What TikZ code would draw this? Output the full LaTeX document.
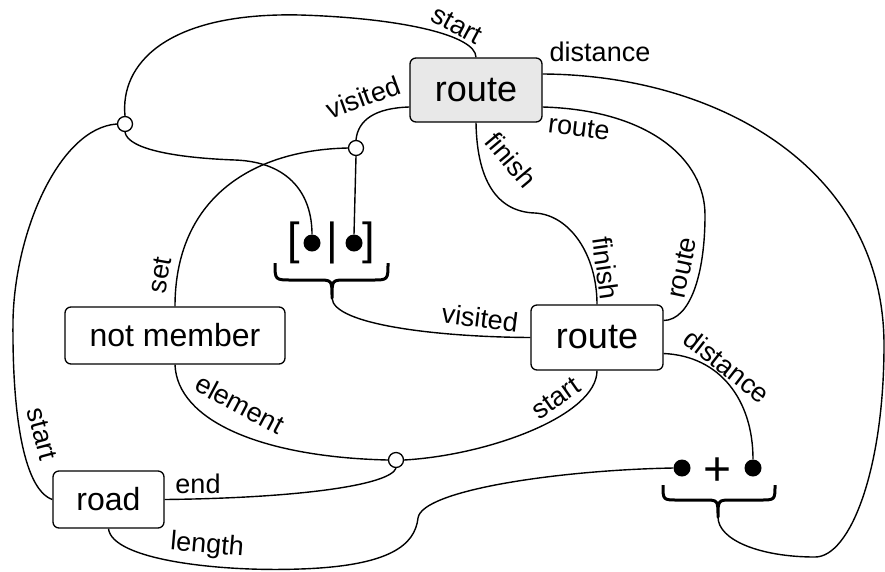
\documentclass[tikz,border=0pt]{standalone}
\usepackage{fontspec}
\setmainfont{Liberation Sans}
\usetikzlibrary{calc}
\definecolor{boxgray}{HTML}{E8E8E8}
\begin{document}
\begin{tikzpicture}[x=1pt,y=-1pt,
  box/.style={draw, rounded corners=6pt, line width=1.3pt, inner sep=0pt, font=\fontsize{32}{36}\selectfont},
  routebox/.style={box, minimum width=132pt, minimum height=64pt, font=\fontsize{36}{40}\selectfont},
  lab/.style={inner sep=0pt, font=\fontsize{27}{30}\selectfont},
  conn/.style={line width=1.4pt},
  junc/.style={circle, draw, fill=white, line width=1.3pt, minimum size=15pt, inner sep=0pt},
  dotn/.style={circle, fill=black, minimum size=17pt, inner sep=0pt},
  sym/.style={inner sep=0pt, font=\fontsize{45}{48}\selectfont},
  bracepath/.style={line width=3pt, line join=round}
]
\useasboundingbox (0,0) rectangle (885,571);

% nodes
\node[routebox, fill=boxgray] (r1) at (476,90) {route};
\node[routebox, minimum height=65pt] (r2) at (597,337.5) {route};
\node[box, minimum width=220pt, minimum height=57pt] (nm) at (175,335.5) {not member};
\node[box, minimum width=111pt, minimum height=57pt] (road) at (108.5,499.5) {road};

\node[junc] (c1) at (125,124) {};
\node[junc] (c2) at (356,148) {};
\node[junc] (c3) at (396,460) {};

\node[dotn] (d1) at (312,243) {};
\node[dotn] (d2) at (354,243) {};
\node[dotn] (p1) at (682,468) {};
\node[dotn] (p2) at (753,468) {};

\node[sym] (lb) at (294,243) {[};
\node[sym] (bar) at (332,243) {|};
\node[sym] (rb) at (369,243) {]};
\node[sym, font=\fontsize{48}{52}\selectfont] (plus) at (718,471.5) {+};

\coordinate (bt1) at (332,298);
\coordinate (bt2) at (718,517);

% braces
\draw[bracepath] (275,263) .. controls (275,280) .. (292,280) -- (318,280)
   .. controls (332,280) .. (bt1) .. controls (332,280) .. (346,280) -- (372,280)
   .. controls (388,280) .. (388,263);
\draw[bracepath] (663,485) .. controls (663,500) .. (678,500) -- (704,500)
   .. controls (718,500) .. (bt2) .. controls (718,500) .. (732,500) -- (760,500)
   .. controls (775,500) .. (775,485);

% connectors
\draw[conn] (r1.north) .. controls (476,35) and (400,18) .. (300,15)
   .. controls (165,12) and (120,65) .. (c1.north);
\draw[conn] (c1.west) .. controls (60,128) and (15,230) .. (13,320)
   .. controls (12,420) and (25,490) .. (road.west);
\draw[conn] (c1.south) .. controls (128,150) and (180,158) .. (235,160)
   .. controls (290,162) and (312,195) .. (d1.north);
\draw[conn] ($(r1.west)+(0,17)$) .. controls (375,108) and (358,120) .. (c2.north);
\draw[conn] (c2.south) -- (d2.north);
\draw[conn] (c2.west) .. controls (250,150) and (175,200) .. (nm.north);
\draw[conn] (bt1) .. controls (333,325) and (440,337) .. (r2.west);
\draw[conn] (r1.south) .. controls (477,185) and (500,212) .. (535,213)
   .. controls (570,215) and (597,255) .. (r2.north);
\draw[conn] ($(r1.east)+(0,17)$) .. controls (650,110) and (705,160) .. (705,215)
   .. controls (705,275) and (690,320) .. ($(r2.east)+(0,-17)$);
\draw[conn] ($(r1.east)+(0,-16)$) .. controls (720,75) and (884,170) .. (884,345)
   .. controls (884,470) and (850,557) .. (815,557)
   .. controls (760,557) and (718,540) .. (bt2);
\draw[conn] ($(r2.east)+(0,16)$) .. controls (720,356) and (753,400) .. (p2.north);
\draw[conn] (r2.south) .. controls (597,415) and (490,455) .. (c3.east);
\draw[conn] (nm.south) .. controls (177,420) and (260,457) .. (c3.west);
\draw[conn] (road.east) .. controls (300,498) and (390,485) .. (c3.south);
\draw[conn] (road.south) .. controls (112,560) and (220,572) .. (300,569)
   .. controls (390,566) and (415,545) .. (418,518)
   .. controls (422,490) and (560,470) .. (p1.west);

% labels
\node[lab, rotate=-28] (l1) at (457,25) {start};
\node[lab] (l2) at (600,52) {distance};
\node[lab, rotate=20] (l3) at (363,97) {visited};
\node[lab, rotate=-7] (l4) at (579,128) {route};
\node[lab, rotate=-50] (l5) at (511,160) {finish};
\node[lab, rotate=-82] (l6) at (606,268) {finish};
\node[lab, rotate=78] (l7) at (682,268) {route};
\node[lab, rotate=80] (l8) at (160,275) {set};
\node[lab, rotate=-7] (l9) at (480,318) {visited};
\node[lab, rotate=-38] (l10) at (727,366) {distance};
\node[lab, rotate=35] (l11) at (556,398) {start};
\node[lab, rotate=-28] (l12) at (240,404) {element};
\node[lab, rotate=-75] (l13) at (42,434) {start};
\node[lab] (l14) at (198,484) {end};
\node[lab, rotate=-5] (l15) at (207,546) {length};
\end{tikzpicture}
\end{document}
